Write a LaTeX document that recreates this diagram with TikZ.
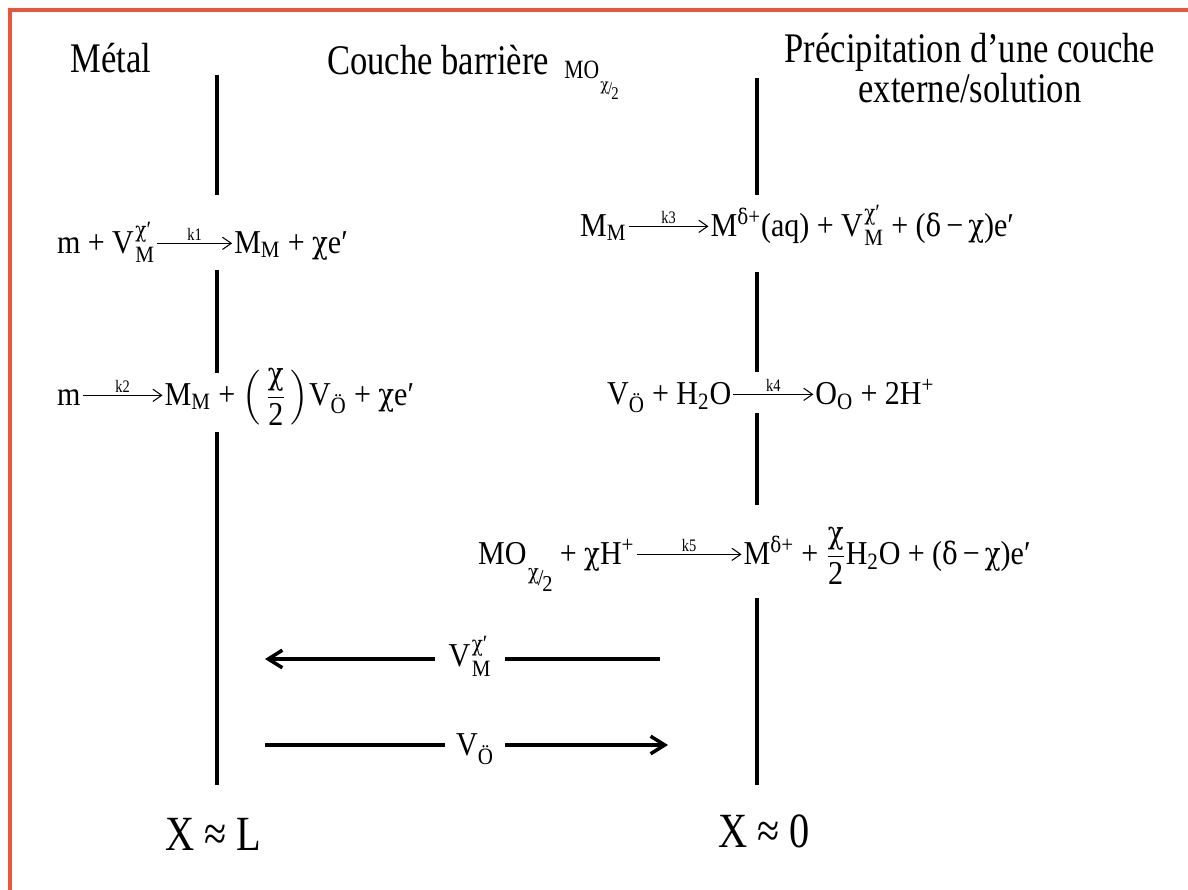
\documentclass[tikz,border=0pt]{standalone}
\usepackage{amsmath}
\usepackage{fontspec}
\setmainfont{Liberation Serif}[FakeStretch=0.82]
\newfontfamily\eqfont{Liberation Serif}[FakeStretch=0.9]
\newfontfamily\grk{DejaVu Serif}[FakeStretch=0.85, Scale=0.92]
\usetikzlibrary{arrows.meta,positioning}
\definecolor{framered}{RGB}{236,84,62}
% greek letters and operators
\newcommand{\gchi}{{\grk χ}}
\newcommand{\gdel}{{\grk δ}}
\newcommand{\pl}{\hspace{0.22em}+\hspace{0.22em}}
\newcommand{\mi}{\hspace{0.15em}−\hspace{0.15em}}
% vacancy with stacked sub- and superscript
\newcommand{\vac}[2]{V\kern0.05em$^{\text{#2}}_{\text{#1}}$}
% slanted chi/2 index
\newcommand{\chihalf}{\kern0.05em\raisebox{-1.4ex}{\scalebox{0.68}{\raisebox{0.6ex}{\gchi}\kern-0.05em/\kern-0.05em\raisebox{-0.55ex}{2}}}}
\newcommand{\chifrac}{$\dfrac{\text{\gchi}}{\text{2}}$}

\begin{document}
\begin{tikzpicture}[x=0.02cm, y=-0.02cm,
    wall/.style={line width=1.8pt},
    flux/.style={line width=2pt},
    head/.style={font=\fontsize{24}{23}\selectfont, inner sep=0pt},
    eqn/.style={font=\eqfont\fontsize{19}{21}\selectfont, inner sep=1pt},
    lbl/.style={font=\eqfont\fontsize{19}{21}\selectfont, inner sep=0pt},
    poslabel/.style={font=\fontsize{28}{30}\selectfont, inner sep=0pt},
    klabel/.style={font=\fontsize{10}{11}\selectfont, above=1.5pt, inner sep=0pt},
    react/.style={-{Straight Barb[length=5pt,width=7pt]}, line width=0.6pt},
    >={Straight Barb[length=8pt,width=10pt]}
]
\useasboundingbox (0,0) rectangle (1188,890);
% frame
\draw[framered, line width=1.8pt] (10,890) -- (10,10) -- (1188,10);

% headings
\node[head] (metal) at (111,58) {Métal};
\node[head] (barrier) at (438,60) {Couche barrière};
\node[font=\fontsize{15}{17}\selectfont, inner sep=0pt, anchor=base west] (oxide) at (564,78) {MO\chihalf};
\node[head, align=center] (outer) at (970,68) {Précipitation d’une couche\\externe/solution};

% interfaces
\foreach \a/\b in {75/195, 270/373, 432/785}
    \draw[wall] (217,\a) -- (217,\b);
\foreach \a/\b in {78/195, 272/372, 413/505, 598/785}
    \draw[wall] (757,\a) -- (757,\b);

% reactions at metal/film interface
\node[eqn, anchor=base west] (r1) at (55,253) {m\pl\vac{M}{\gchi′}};
\node[eqn, base right=1.5cm of r1] (p1) {M\textsubscript{M}\pl\gchi e′};
\draw[react] ([yshift=5.5pt]r1.base east) -- node[klabel]{k1} ([yshift=5.5pt]p1.base west);

\node[eqn, anchor=base west] (r2) at (55,405) {m};
\node[eqn, base right=1.6cm of r2] (p2) {M\textsubscript{M}\pl$\left(\,\text{\chifrac}\,\right)$V\textsubscript{Ö}\pl\gchi e′};
\draw[react] ([yshift=5.5pt]r2.base east) -- node[klabel]{k2} ([yshift=5.5pt]p2.base west);

% reactions at film/solution interface
\node[eqn, anchor=base west] (r3) at (578,236) {M\textsubscript{M}};
\node[eqn, base right=1.6cm of r3] (p3) {M\textsuperscript{\gdel+}(aq)\pl\vac{M}{\gchi′}\pl(\gdel\mi\gchi)e′};
\draw[react] ([yshift=5.5pt]r3.base east) -- node[klabel]{k3} ([yshift=5.5pt]p3.base west);

\node[eqn, anchor=base west] (r4) at (605,404) {V\textsubscript{Ö}\pl H\textsubscript{2}O};
\node[eqn, base right=1.6cm of r4] (p4) {O\textsubscript{O}\pl 2H\textsuperscript{+}};
\draw[react] ([yshift=5.5pt]r4.base east) -- node[klabel]{k4} ([yshift=5.5pt]p4.base west);

\node[eqn, anchor=base west] (r5) at (476,564) {MO\chihalf\pl\gchi H\textsuperscript{+}};
\node[eqn, base right=2.1cm of r5] (p5) {M\textsuperscript{\gdel+}\pl\chifrac H\textsubscript{2}O\pl(\gdel\mi\gchi)e′};
\draw[react] ([yshift=5.5pt]r5.base east) -- node[klabel]{k5} ([yshift=5.5pt]p5.base west);

% defect fluxes
\coordinate (vmL) at (265,659);
\coordinate (vmR) at (660,659);
\node[lbl, minimum width=1.4cm] (vm) at (470,656) {\vac{M}{\gchi′}};
\draw[flux, ->] (vm.west |- vmL) -- (vmL);
\draw[flux] (vm.east |- vmR) -- (vmR);

\coordinate (voL) at (265,745);
\coordinate (voR) at (668,745);
\node[lbl, minimum width=1.2cm] (vo) at (475,749) {V\textsubscript{Ö}};
\draw[flux] (voL) -- (vo.west |- voL);
\draw[flux, ->] (vo.east |- voR) -- (voR);

% positions
\node[poslabel, anchor=base west] (xl) at (165,850) {X ≈ L};
\node[poslabel, anchor=base west] (x0) at (718,847) {X ≈ 0};
\end{tikzpicture}
\end{document}
